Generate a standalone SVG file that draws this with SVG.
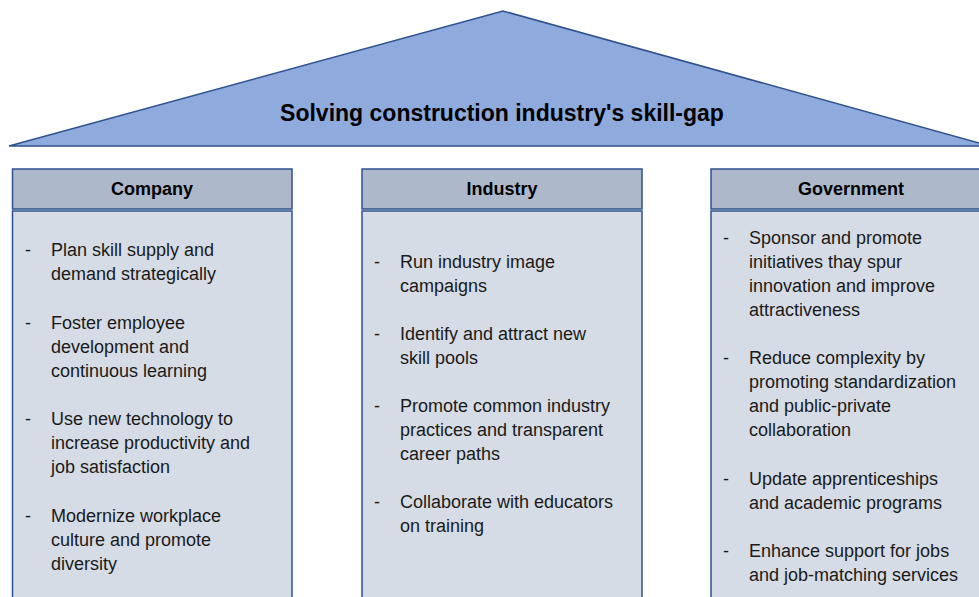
<svg xmlns="http://www.w3.org/2000/svg" width="979" height="597" viewBox="0 0 979 597">
<style>
.roof{fill:#8faadc;stroke:#2f528f;stroke-width:1.5}
.hdr{fill:#adb9ca;stroke:#2f528f;stroke-width:1.5}
.body{fill:#d6dce5;stroke:#2f528f;stroke-width:1.5}
.title{font-family:"Liberation Sans",Arial,sans-serif;font-weight:bold;font-size:23px;fill:#000;text-anchor:middle}
.h{font-family:"Liberation Sans",Arial,sans-serif;font-weight:bold;font-size:18px;fill:#000;text-anchor:middle}
.t{font-family:"Liberation Sans",Arial,sans-serif;font-size:18px;fill:#1a1a1a}
</style>
<rect width="979" height="597" fill="#ffffff"/>
<g id="roof">
<polygon class="roof" points="9,146 503,11 990,146"/>
<text class="title" x="502" y="121">Solving construction industry's skill-gap</text>
</g>
<g id="company">
<rect class="hdr" x="12.5" y="169" width="279.5" height="40"/>
<rect class="body" x="12.5" y="211" width="279.5" height="400"/>
<text class="h" x="152" y="195">Company</text>
<g class="t">
<text x="25" y="256">-</text><text x="51" y="256">Plan skill supply and</text>
<text x="51" y="280">demand strategically</text>
<text x="25" y="329">-</text><text x="51" y="329">Foster employee</text>
<text x="51" y="353">development and</text>
<text x="51" y="377">continuous learning</text>
<text x="25" y="425">-</text><text x="51" y="425">Use new technology to</text>
<text x="51" y="449">increase productivity and</text>
<text x="51" y="473">job satisfaction</text>
<text x="25" y="522">-</text><text x="51" y="522">Modernize workplace</text>
<text x="51" y="546">culture and promote</text>
<text x="51" y="570">diversity</text>
</g>
</g>
<g id="industry">
<rect class="hdr" x="362" y="169" width="280" height="40"/>
<rect class="body" x="362" y="211" width="280" height="400"/>
<text class="h" x="502" y="195">Industry</text>
<g class="t">
<text x="374" y="268">-</text><text x="400" y="268">Run industry image</text>
<text x="400" y="292">campaigns</text>
<text x="374" y="340">-</text><text x="400" y="340">Identify and attract new</text>
<text x="400" y="364">skill pools</text>
<text x="374" y="412">-</text><text x="400" y="412">Promote common industry</text>
<text x="400" y="436">practices and transparent</text>
<text x="400" y="460">career paths</text>
<text x="374" y="508">-</text><text x="400" y="508">Collaborate with educators</text>
<text x="400" y="532">on training</text>
</g>
</g>
<g id="government">
<rect class="hdr" x="711" y="169" width="290" height="40"/>
<rect class="body" x="711" y="211" width="290" height="400"/>
<text class="h" x="851" y="195">Government</text>
<g class="t">
<text x="723" y="244">-</text><text x="749" y="244">Sponsor and promote</text>
<text x="749" y="268">initiatives thay spur</text>
<text x="749" y="292">innovation and improve</text>
<text x="749" y="316">attractiveness</text>
<text x="723" y="364">-</text><text x="749" y="364">Reduce complexity by</text>
<text x="749" y="388">promoting standardization</text>
<text x="749" y="412">and public-private</text>
<text x="749" y="436">collaboration</text>
<text x="723" y="485">-</text><text x="749" y="485">Update apprenticeships</text>
<text x="749" y="509">and academic programs</text>
<text x="723" y="557">-</text><text x="749" y="557">Enhance support for jobs</text>
<text x="749" y="581">and job-matching services</text>
</g>
</g>
<g id="connectors"></g>
</svg>
